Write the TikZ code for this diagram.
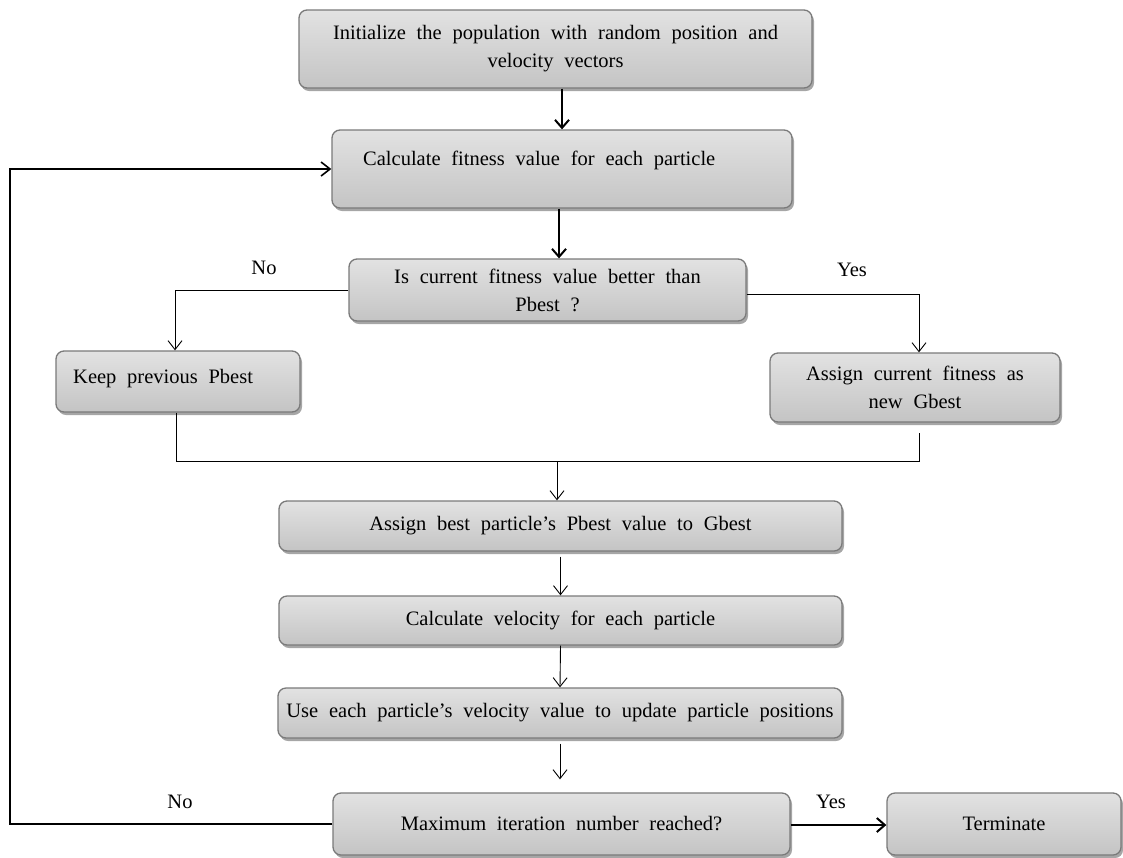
\documentclass[tikz,border=0pt]{standalone}
\usepackage{fontspec}
\setmainfont[WordSpace=2.1]{Liberation Serif}
\usetikzlibrary{arrows.meta,shadows}
\definecolor{boxtop}{HTML}{E2E2E2}
\definecolor{boxbot}{HTML}{C4C4C4}
\definecolor{boxline}{HTML}{7A7A7A}
\begin{document}
\begin{tikzpicture}[x=1pt,y=-1pt,
  box/.style={draw=boxline, line width=1.3pt, rounded corners=8pt,
    top color=boxtop, bottom color=boxbot,
    drop shadow={shadow xshift=2pt, shadow yshift=-3pt, opacity=0.35, fill=black},
    inner sep=0pt, align=center, font=\fontsize{20.5}{28}\selectfont},
  txt/.style={inner sep=0pt, font=\fontsize{20.5}{28}\selectfont},
  lbl/.style={inner sep=0pt, font=\fontsize{20.5}{24}\selectfont},
  thinarrow/.style={line width=0.9pt, -{Straight Barb[length=9pt,width=14pt,line width=0.9pt]}},
  thickarrow/.style={line width=2.2pt, -{Straight Barb[length=8pt,width=14pt,line width=2pt]}},
  thinline/.style={line width=0.9pt},
  loopline/.style={line width=1.8pt}
]
\useasboundingbox (0,0) rectangle (1123,857);
\fill[white] (0,0) rectangle (1123,857);

\node[box, minimum width=513pt, minimum height=78pt] (b1) at (555.5,49)
  {Initialize the population with random position and\\velocity vectors};
\node[box, minimum width=460pt, minimum height=78pt] (b2) at (562,169) {};
\node[txt, anchor=west] (b2t) at (363,160) {Calculate fitness value for each particle};
\node[box, minimum width=397pt, minimum height=62pt] (b3) at (547.5,290)
  {Is current fitness value better than\\Pbest ?};
\node[box, minimum width=244pt, minimum height=61pt] (keep) at (178,381.5) {};
\node[txt, anchor=west] (keept) at (73,379) {Keep previous Pbest};
\node[box, minimum width=290pt, minimum height=69pt] (asg) at (915,387.5)
  {Assign current fitness as\\new Gbest};
\node[box, minimum width=563pt, minimum height=50pt] (ab) at (560.5,526)
  {Assign best particle’s Pbest value to Gbest};
\node[box, minimum width=563pt, minimum height=49pt] (cv) at (560.5,620.5)
  {Calculate velocity for each particle};
\node[box, minimum width=564pt, minimum height=50pt] (ue) at (560,713)
  {Use each particle’s velocity value to update particle positions};
\node[box, minimum width=457pt, minimum height=62pt] (mx) at (561.5,824)
  {Maximum iteration number reached?};
\node[box, minimum width=234pt, minimum height=62pt] (term) at (1004,824)
  {Terminate};

% labels
\node[lbl] (lno1) at (264,268) {No};
\node[lbl] (lyes1) at (852,270) {Yes};
\node[lbl] (lno2) at (180,802) {No};
\node[lbl] (lyes2) at (831,802) {Yes};

% coordinates
\coordinate (mL) at (176,461);
\coordinate (mR) at (919,461);
\coordinate (mRtop) at (919,433);
\coordinate (mM) at (557,461);
\coordinate (loopB) at (10,824);
\coordinate (loopT) at (10,169);

% connectors
\draw[thickarrow] (b1.south -| b2.north) -- (b2.north);
\draw[thickarrow] ([xshift=-3pt]b2.south) -- ([xshift=11.5pt]b3.north);
\draw[thinarrow] (b3.west) -| ([xshift=-3pt]keep.north);
\draw[thinarrow] ([yshift=-4pt]b3.east) -| ([xshift=4pt]asg.north);
\draw[thinline] ([xshift=-2pt]keep.south) -- (mL) -- (mR) -- (mRtop);
\draw[thinarrow] (mM) -- ([xshift=-3.5pt]ab.north);
\draw[thinarrow] ([yshift=-5pt]ab.south) -- (cv.north);
\draw[thinarrow] (cv.south) -- (ue.north);
\draw[thinarrow] ([yshift=-5pt]ue.south) -- ([xshift=-1.5pt,yshift=13pt]mx.north);
\draw[thickarrow] ([yshift=-1pt]mx.east) -- ([yshift=-1pt]term.west);
\draw[loopline, -{Straight Barb[length=9pt,width=14pt,line width=1.6pt]}] (mx.west) -- (loopB) -- (loopT) -- (b2.west);
\end{tikzpicture}
\end{document}
